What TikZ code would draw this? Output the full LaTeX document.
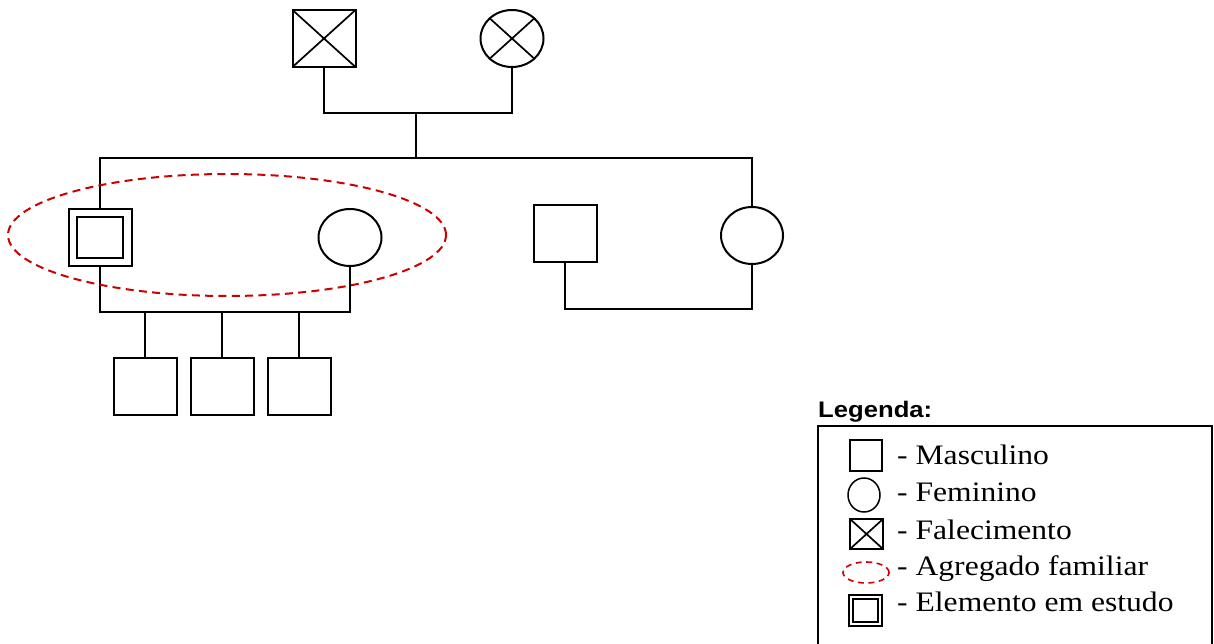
\documentclass[tikz,border=0pt]{standalone}
\usepackage{fontspec}
\setmainfont{Liberation Serif}
\newfontfamily\legsans{Liberation Sans}
\usetikzlibrary{shapes.geometric}

\definecolor{hhred}{RGB}{204,0,0}

\tikzset{
  person/.style={draw, line width=2pt, inner sep=0pt, outer sep=0pt},
  male/.style 2 args={person, rectangle, minimum width=#1, minimum height=#2},
  female/.style 2 args={person, ellipse, minimum width=#1, minimum height=#2},
  deceased/.style={path picture={
      \draw[line width=1.7pt] (path picture bounding box.north west) -- (path picture bounding box.south east)
                              (path picture bounding box.north east) -- (path picture bounding box.south west);}},
  proband/.style={path picture={
      \draw[line width=2pt] ([xshift=#1,yshift=-#1]path picture bounding box.north west)
                              rectangle ([xshift=-#1,yshift=#1]path picture bounding box.south east);}},
  household/.style={draw=hhred, line width=2pt, ellipse, inner sep=0pt, outer sep=0pt},
  link/.style={line width=2pt},
  legtext/.style={anchor=base west, inner sep=0pt, xscale=1.12, font=\fontsize{28.2}{32}\selectfont},
  legtitle/.style={anchor=base west, inner sep=0pt, xscale=1.14, font=\legsans\bfseries\fontsize{22.5}{26}\selectfont},
}

\begin{document}
\begin{tikzpicture}[x=1pt, y=-1pt]
\useasboundingbox (0,0) rectangle (1214,644);

% grandparents
\node[male={63pt}{57pt}, deceased] (gf) at (324,38.5) {};
\node[female={63pt}{57pt}, deceased] (gm) at (512,38.5) {};
\coordinate (gpar) at (416,113);
\coordinate (sib) at (416,158);
\draw[link] (gf.south) |- (gpar) -| (gm.south);
\draw[link] (gpar) -- (sib);

% second generation
\node[male={63pt}{57pt}, proband=8.5pt] (ego) at (100,237.5) {};
\node[female={63pt}{57pt}] (wife) at (350,237.5) {};
\node[male={63pt}{57pt}] (uncle) at (565,233.5) {};
\node[female={62pt}{57pt}] (aunt) at (752,235.5) {};
\draw[link] (ego.north) |- (sib) -| (aunt.north);

% couples
\coordinate (kids) at (226,312);
\draw[link] (ego.south) |- (kids) -| (wife.south);
\coordinate (ua) at (658,309);
\draw[link] (uncle.south) |- (ua) -| (aunt.south);

% children
\node[male={63pt}{57pt}] (c1) at (145,386.5) {};
\node[male={63pt}{57pt}] (c2) at (222,386.5) {};
\node[male={63pt}{57pt}] (c3) at (299,386.5) {};
\foreach \c in {c1,c2,c3}
  \draw[link] (\c.north) -- (\c.north |- kids);

% household
\node[household, dash pattern=on 8pt off 5.3pt, minimum width=438pt, minimum height=122pt] (hh) at (227,235) {};

% legend
\node[legtitle] (legtitle) at (818,417.3) {Legenda:};
\coordinate (lbl) at (818,650);
\coordinate (ltr) at (1212,426);
\coordinate (lbr) at (1212,650);
\draw[line width=1.6pt] (lbl) |- (ltr) -- (lbr);

\node[male={32pt}{31pt}, line width=1.5pt] (lm) at (866,455.5) {};
\node[female={32pt}{34pt}, line width=1.5pt] (lf) at (864,495) {};
\node[male={33pt}{30pt}, line width=1.5pt, deceased] (ld) at (866.5,534) {};
\node[household, line width=1.6pt, dash pattern=on 6pt off 4.5pt, minimum width=46pt, minimum height=21pt] (la) at (866,572.5) {};
\node[male={33pt}{31pt}, line width=1.5pt, proband=4pt] (lp) at (865.5,610.5) {};

\node[legtext] (tm) at (897,464) {- Masculino};
\node[legtext] (tf) at (897,501.7) {- Feminino};
\node[legtext] (td) at (897,539) {- Falecimento};
\node[legtext] (ta) at (897,575) {- Agregado familiar};
\node[legtext] (tp) at (897,611.7) {- Elemento em estudo};
\end{tikzpicture}
\end{document}
